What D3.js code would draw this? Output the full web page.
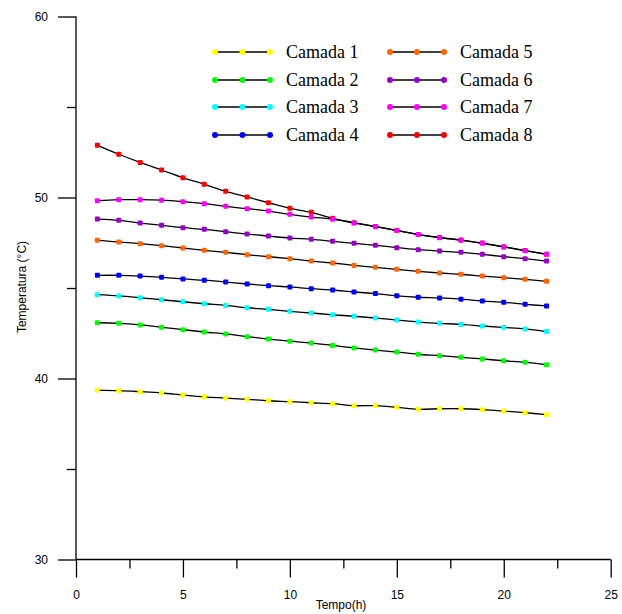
<!DOCTYPE html>
<html>
<head>
<meta charset="utf-8">
<script src="https://cdn.jsdelivr.net/npm/d3@7"></script>
<style>
html,body{margin:0;padding:0;background:#fff;}
svg{display:block;}
</style>
</head>
<body>
<svg id="chart" width="622" height="614"></svg>
<script>
const hours = [1,2,3,4,5,6,7,8,9,10,11,12,13,14,15,16,17,18,19,20,21,22];
const camada1 = [39.36,39.33,39.27,39.20,39.09,38.99,38.92,38.85,38.77,38.72,38.66,38.61,38.50,38.50,38.41,38.30,38.33,38.33,38.28,38.20,38.11,38.00];
const camada2 = [43.08,43.05,42.96,42.83,42.70,42.57,42.46,42.31,42.18,42.06,41.96,41.83,41.69,41.57,41.46,41.34,41.26,41.17,41.08,40.98,40.90,40.76];
const camada3 = [44.63,44.56,44.46,44.35,44.24,44.13,44.04,43.91,43.82,43.71,43.62,43.52,43.44,43.34,43.23,43.12,43.05,42.99,42.90,42.82,42.74,42.59];
const camada4 = [45.70,45.70,45.66,45.59,45.50,45.43,45.33,45.22,45.13,45.06,44.96,44.89,44.78,44.69,44.57,44.49,44.45,44.38,44.28,44.21,44.10,44.01];
const camada5 = [47.64,47.54,47.45,47.34,47.21,47.08,46.97,46.84,46.73,46.62,46.49,46.38,46.25,46.14,46.03,45.92,45.83,45.76,45.66,45.57,45.48,45.37];
const camada6 = [48.81,48.74,48.59,48.46,48.33,48.24,48.11,47.98,47.87,47.76,47.69,47.58,47.47,47.36,47.23,47.12,47.04,46.97,46.86,46.73,46.62,46.49];
const camada7 = [49.82,49.88,49.88,49.85,49.77,49.66,49.51,49.38,49.25,49.07,48.92,48.80,48.59,48.39,48.17,47.95,47.78,47.64,47.47,47.27,47.06,46.86];
const camada8 = [52.88,52.39,51.94,51.52,51.09,50.73,50.34,50.03,49.71,49.40,49.18,48.85,48.61,48.40,48.18,47.96,47.79,47.65,47.48,47.28,47.07,46.87];

const seriesNames = ["Camada 1","Camada 2","Camada 3","Camada 4","Camada 5","Camada 6","Camada 7","Camada 8"];
const seriesValues = [camada1,camada2,camada3,camada4,camada5,camada6,camada7,camada8];
const seriesColors = ["#ffff00","#00ff00","#00ffff","#0000ff","#ff6600","#9900cc","#ff00ff","#ff0000"];
const drawOrder = [0,1,2,3,4,5,7,6];

const xMajorTicks = [0,5,10,15,20,25];
const xMinorTicks = [2.5,7.5,12.5,17.5,22.5];
const yMajorTicks = [30,40,50,60];
const yMinorTicks = [35,45,55];

const xTitle = "Tempo(h)";
const yTitle = "Temperatura (°C)";

const svg = d3.select("#chart");
const x = d3.scaleLinear().domain([0,25]).range([76,610.7]);
const y = d3.scaleLinear().domain([30,60]).range([559.5,16.5]);

const sans = "Liberation Sans, Arial, sans-serif";
const serif = "Liberation Serif, Times New Roman, serif";

// Y axis
const yMaj = svg.append("g").attr("transform","translate(76,0)")
  .call(d3.axisLeft(y).tickValues(yMajorTicks).tickSize(18).tickPadding(10).tickFormat(d3.format("d")));
const yMin = svg.append("g").attr("transform","translate(76,0)")
  .call(d3.axisLeft(y).tickValues(yMinorTicks).tickSize(9).tickFormat(""));
yMin.select(".domain").remove();

// X axis
const xMaj = svg.append("g").attr("transform","translate(0,559.5)")
  .call(d3.axisBottom(x).tickValues(xMajorTicks).tickSize(18).tickPadding(13).tickFormat(d3.format("d")));
const xMin = svg.append("g").attr("transform","translate(0,559.5)")
  .call(d3.axisBottom(x).tickValues(xMinorTicks).tickSize(9).tickFormat(""));
xMin.select(".domain").remove();

[yMaj,yMin,xMaj,xMin].forEach(g=>{
  g.selectAll("path.domain").attr("stroke","#000").attr("stroke-width",1.3);
  g.selectAll(".tick line").attr("stroke","#000").attr("stroke-width",1.3);
  g.selectAll(".tick text").attr("font-family",sans).attr("font-size",12).attr("fill","#000");
});
yMaj.select(".domain").attr("d","M0,"+y(30)+"V"+y(60));
xMaj.select(".domain").attr("d","M"+x(0)+",0H"+x(25));

svg.append("text").attr("x",341).attr("y",609).attr("text-anchor","middle")
  .attr("font-family",sans).attr("font-size",12).text(xTitle);
svg.append("text").attr("transform","translate(26,287) rotate(-90)").attr("text-anchor","middle")
  .attr("font-family",sans).attr("font-size",12).text(yTitle);

// Lines
const line = d3.line().x((d,i)=>x(hours[i])).y(d=>y(d)).curve(d3.curveCatmullRom.alpha(0.5));
drawOrder.forEach(si=>{
  const vals = seriesValues[si];
  const g = svg.append("g");
  g.append("path").attr("d",line(vals)).attr("fill","none").attr("stroke","#000").attr("stroke-width",1.3);
  g.selectAll("rect").data(vals).enter().append("rect")
    .attr("x",(d,i)=>x(hours[i])-2.5).attr("y",d=>y(d)-2.5)
    .attr("width",5).attr("height",5).attr("rx",1)
    .attr("fill",seriesColors[si]);
});

// Legend
const legRowY = [52,80,107,135];
seriesNames.forEach((name,si)=>{
  const col = si<4?0:1;
  const row = si%4;
  const x0 = col===0?215:390;
  const x1 = col===0?270:444;
  const ty = legRowY[row];
  const g = svg.append("g");
  g.append("line").attr("x1",x0).attr("x2",x1).attr("y1",ty).attr("y2",ty).attr("stroke","#000").attr("stroke-width",1.3);
  [x0,(x0+x1)/2,x1].forEach(cx=>{
    g.append("circle").attr("cx",cx).attr("cy",ty).attr("r",3).attr("fill",seriesColors[si]);
  });
  g.append("text").attr("x",col===0?286:460).attr("y",ty+6)
    .attr("font-family",serif).attr("font-size",18).attr("fill","#000").text(name);
});
</script>
</body>
</html>
